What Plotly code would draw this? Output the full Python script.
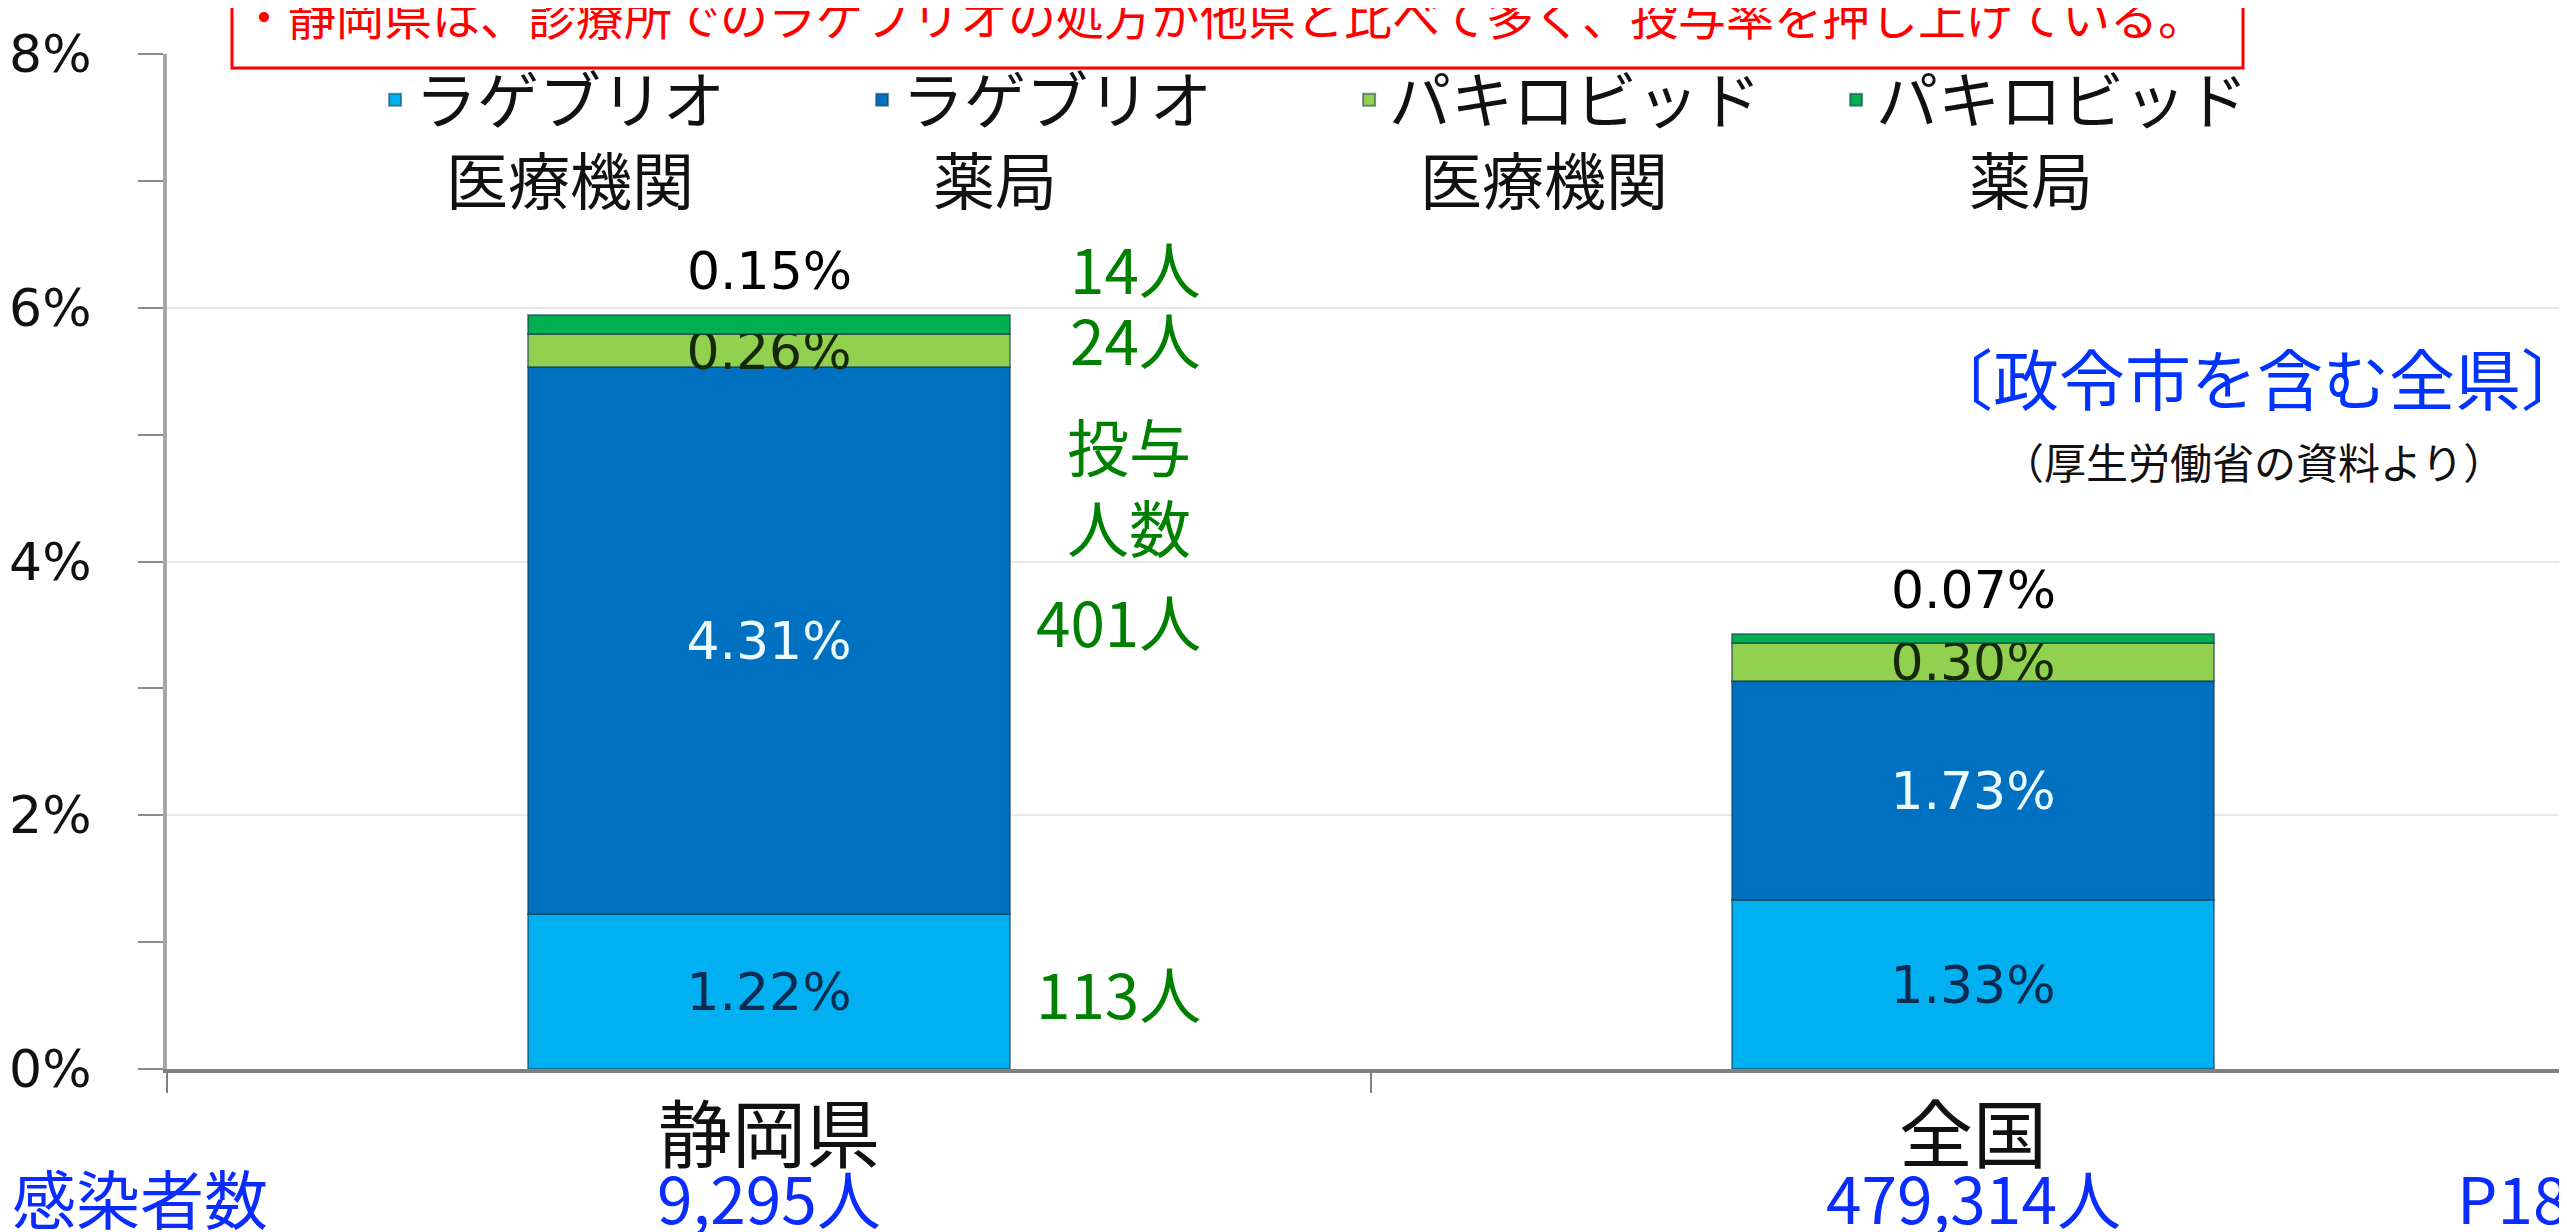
import plotly.graph_objects as go

# 投与率（感染者数に対する割合, %）
categories = ["静岡県", "全国"]
lag_clinic = [1.22, 1.33]      # ラゲブリオ 医療機関
lag_pharm = [4.31, 1.73]       # ラゲブリオ 薬局
pax_clinic = [0.26, 0.30]      # パキロビッド 医療機関
pax_pharm = [0.15, 0.07]       # パキロビッド 薬局
infected = [9295, 479314]      # 感染者数
shizuoka_people = [113, 401, 24, 14]   # 静岡県 投与人数（系列順）

W, H = 2567, 1232
L, R, T, B = 159, 0, 46, 171
PW, PH = W - L - R, H - T - B


def px2x(px):
    return (px - L) / PW


def px2y(py):
    return (H - B - py) / PH


JP = "Noto Sans CJK JP"
LAT = "DejaVu Sans"

series = [
    ("ラゲブリオ<br>\u2002医療機関", lag_clinic, "#00b0f0", "#0d2a50", "inside"),
    ("ラゲブリオ<br>\u2002薬局", lag_pharm, "#0070c0", "#eafaff", "inside"),
    ("パキロビッド<br>\u2002医療機関", pax_clinic, "#92d050", "#15280a", "inside"),
    ("パキロビッド<br>\u2002\u3000薬局", pax_pharm, "#00b050", "#000000", "none"),
]

fig = go.Figure()
for name, vals, color, tcolor, tpos in series:
    fig.add_trace(go.Bar(
        x=categories, y=vals, name=name, marker_color=color,
        marker_line=dict(color="rgba(20,60,80,0.55)", width=2),
        texttemplate="%{y:.2f}%", textposition=tpos, textangle=0,
        insidetextanchor="middle", constraintext="none", cliponaxis=False,
        textfont=dict(family=LAT, size=52, color=tcolor)))

# 最上段（パキロビッド薬局）の値は棒の上に表示
for cat, a, b, c, d in zip(categories, lag_clinic, lag_pharm, pax_clinic, pax_pharm):
    fig.add_annotation(x=cat, y=a + b + c + d, yshift=44, yanchor="middle",
                       showarrow=False, text=f"{d:.2f}%",
                       font=dict(family=LAT, size=52, color="#000000"))

fig.update_layout(
    width=W, height=H, barmode="stack", bargap=0.6,
    margin=dict(l=L, r=R, t=T, b=B, autoexpand=False),
    paper_bgcolor="white", plot_bgcolor="white",
    showlegend=True,
    legend=dict(orientation="h", traceorder="normal", valign="top",
                xref="container", yref="container", x=0.143, y=1 - 45 / H,
                xanchor="left", yanchor="top", entrywidth=442,
                font=dict(family=JP, size=62, color="#111111"),
                bgcolor="rgba(0,0,0,0)"),
    xaxis=dict(showline=True, linecolor="#808080", linewidth=4,
               ticks="outside", tickson="boundaries", ticklen=20,
               tickcolor="#808080", tickwidth=2,
               tickfont=dict(family=JP, size=74, color="#111111")),
    yaxis=dict(range=[0, 8], dtick=2, ticksuffix="%", zeroline=False,
               showgrid=True, gridcolor="#e8e8e8", gridwidth=2,
               showline=True, linecolor="#a6a6a6", linewidth=4,
               ticks="outside", ticklen=25, tickcolor="#8c8c8c", tickwidth=2,
               ticklabelstandoff=36,
               minor=dict(dtick=1, ticks="outside", ticklen=25,
                          tickcolor="#8c8c8c", showgrid=False),
               tickfont=dict(family=LAT, size=52, color="#111111")),
)

# 赤枠の見出し（上端は切れている）
fig.add_shape(type="rect", xref="paper", yref="paper",
              x0=px2x(224), x1=px2x(2235), y0=px2y(60), y1=px2y(-40),
              line=dict(color="#ff0000", width=3), fillcolor="white",
              layer="above")
fig.add_annotation(
    xref="paper", yref="paper", x=px2x(230), y=px2y(6),
    xanchor="left", yanchor="middle", showarrow=False,
    text="・静岡県は、診療所でのラゲブリオの処方が他県と比べて多く、投与率を押し上げている。",
    font=dict(family=JP, size=48, color="#ff0000"))

fig.add_annotation(xref="paper", yref="paper", x=1, y=px2y(368), xshift=14,
                   xanchor="right", yanchor="middle", showarrow=False,
                   text="〔政令市を含む全県〕",
                   font=dict(family=JP, size=66, color="#0033ff"))
fig.add_annotation(xref="paper", yref="paper", x=px2x(2245), y=px2y(452),
                   xanchor="center", yanchor="middle", showarrow=False,
                   text="（厚生労働省の資料より）",
                   font=dict(family=JP, size=42, color="#111111"))

# 静岡県の投与人数（緑）
green = "#008000"
base = 0
mids = []
for vals in (lag_clinic, lag_pharm, pax_clinic):
    mids.append(base + vals[0] / 2)
    base += vals[0]
top = base + pax_pharm[0]
label_y = mids + [top]
shift = [0, 21, 13, 48]
for n, yv, ys in zip(shizuoka_people, label_y, shift):
    fig.add_annotation(xref="paper", yref="y", x=px2x(1195), y=yv, yshift=ys,
                       xanchor="right", yanchor="middle", showarrow=False,
                       text=f"{n}人", font=dict(family=JP, size=62, color=green))
fig.add_annotation(xref="paper", yref="y", x=px2x(1121), y=4.6,
                   xanchor="center", yanchor="middle", showarrow=False,
                   text="投与<br>人数",
                   font=dict(family=JP, size=62, color=green))

# 感染者数（下段）
blue = "#0a2cff"
ybot = px2y(1188)
fig.add_annotation(xref="paper", yref="paper", x=px2x(2), y=ybot,
                   xanchor="left", yanchor="middle", showarrow=False,
                   text="感染者数", font=dict(family=JP, size=64, color=blue))
for cat, n in zip(categories, infected):
    fig.add_annotation(xref="x", yref="paper", x=cat, y=ybot,
                       xanchor="center", yanchor="middle", showarrow=False,
                       text=f"{n:,}人", font=dict(family=JP, size=64, color=blue))
fig.add_annotation(xref="paper", yref="paper", x=1, y=ybot, xshift=-4,
                   xanchor="right", yanchor="middle", showarrow=False,
                   text="P18", font=dict(family=JP, size=64, color=blue))

fig.write_html("out.html")
